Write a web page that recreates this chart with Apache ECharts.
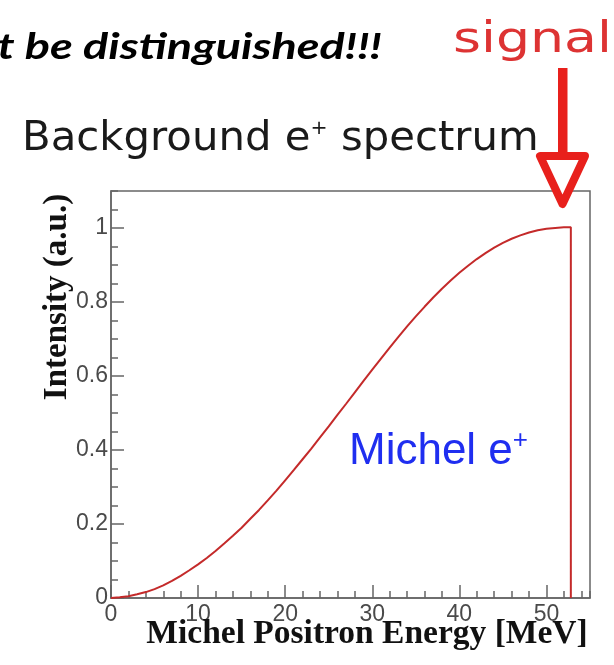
<!DOCTYPE html>
<html>
<head>
<meta charset="utf-8">
<script src="https://cdn.jsdelivr.net/npm/echarts@6/dist/echarts.min.js"></script>
<style>
  html, body { margin: 0; padding: 0; background: #ffffff; }
  #chart { width: 614px; height: 665px; }
</style>
</head>
<body>
<div id="chart"></div>
<script>
// Michel positron energy spectrum (MeV vs. normalised intensity)
const energy = [0, 1, 2, 3, 4, 5, 6, 7, 8, 9, 10, 11, 12, 13, 14, 15, 16, 17, 18, 19, 20,
  21, 22, 23, 24, 25, 26, 27, 28, 29, 30, 31, 32, 33, 34, 35, 36, 37, 38, 39, 40,
  41, 42, 43, 44, 45, 46, 47, 48, 49, 50, 51, 52, 52.8, 52.8];
const intensity = [0, 0.002, 0.005, 0.010, 0.016, 0.024, 0.034, 0.046, 0.060, 0.075, 0.091,
  0.108, 0.127, 0.147, 0.168, 0.190, 0.214, 0.238, 0.264, 0.290, 0.318,
  0.346, 0.375, 0.404, 0.434, 0.464, 0.495, 0.525, 0.556, 0.587, 0.617,
  0.647, 0.677, 0.706, 0.734, 0.761, 0.787, 0.812, 0.836, 0.858, 0.879,
  0.898, 0.916, 0.932, 0.947, 0.960, 0.971, 0.980, 0.988, 0.994, 0.998,
  1.000, 1.002, 1.002, 0];

const xTickLabels = ['0', '10', '20', '30', '40', '50'];
const yTickLabels = ['0', '0.2', '0.4', '0.6', '0.8', '1'];

const headline = 't be distinguished!!!';
const signalText = 'signal';
const plotTitle = 'Background e';
const plotTitleTail = ' spectrum';
const curveLabel = 'Michel e';
const xTitle = 'Michel Positron Energy [MeV]';
const yTitle = 'Intensity (a.u.)';

const AXIS_GREY = '#666666';
const LABEL_GREY = '#4a4a4a';
const CURVE_RED = '#c42a2a';
const ARROW_RED = '#e8201c';

const chart = echarts.init(document.getElementById('chart'), null, { renderer: 'canvas' });

const tickFont = { fontFamily: 'Liberation Sans', fontSize: 23, color: LABEL_GREY };

const option = {
  backgroundColor: '#ffffff',
  animation: false,
  grid: {
    left: 111, right: 24, top: 191, bottom: 67,
    show: true, borderColor: AXIS_GREY, borderWidth: 1.5, backgroundColor: 'transparent'
  },
  xAxis: [
    {
      type: 'value', min: 0, max: 55, interval: 10,
      axisLine: { show: true, lineStyle: { color: AXIS_GREY, width: 1.5 } },
      axisTick: { show: true, inside: true, length: 13, lineStyle: { color: AXIS_GREY, width: 1.5 } },
      axisLabel: Object.assign({ margin: 5, showMaxLabel: false,
        formatter: v => xTickLabels[Math.round(v / 10)] || '' }, tickFont),
      splitLine: { show: false }
    },
    {
      type: 'value', min: 0, max: 55, interval: 2, position: 'bottom',
      axisLine: { show: false },
      axisTick: { show: true, inside: true, length: 7, lineStyle: { color: AXIS_GREY, width: 1.5 } },
      axisLabel: { show: false },
      splitLine: { show: false }
    }
  ],
  yAxis: [
    {
      type: 'value', min: 0, max: 1.1, interval: 0.2,
      axisLine: { show: true, lineStyle: { color: AXIS_GREY, width: 1.5 } },
      axisTick: { show: true, inside: true, length: 13, lineStyle: { color: AXIS_GREY, width: 1.5 } },
      axisLabel: Object.assign({ margin: 3, showMaxLabel: false,
        formatter: v => yTickLabels[Math.round(v / 0.2)] || '' }, tickFont),
      splitLine: { show: false }
    },
    {
      type: 'value', min: 0, max: 1.1, interval: 0.05, position: 'left',
      axisLine: { show: false },
      axisTick: { show: true, inside: true, length: 7, lineStyle: { color: AXIS_GREY, width: 1.5 } },
      axisLabel: { show: false },
      splitLine: { show: false }
    }
  ],
  series: [{
    type: 'line',
    xAxisIndex: 0, yAxisIndex: 0,
    data: energy.map((e, i) => [e, intensity[i]]),
    showSymbol: false,
    lineStyle: { color: CURVE_RED, width: 2 },
    z: 3
  }],
  graphic: [
    {
      type: 'text', x: 382, y: 65, scaleX: 1.3, z: 10,
      style: { text: headline, fill: '#000000', fontFamily: 'Lato', fontWeight: 'bold',
        fontStyle: 'italic', fontSize: 36, textAlign: 'right', textVerticalAlign: 'bottom' }
    },
    {
      type: 'text', x: 612, y: 62, scaleX: 1.28, z: 10,
      style: { text: signalText, fill: '#dd3333',
        fontFamily: 'DejaVu Sans', fontSize: 42,
        textAlign: 'right', textVerticalAlign: 'bottom' }
    },
    {
      type: 'rect', z: 10,
      shape: { x: 558, y: 68, width: 9.5, height: 86 },
      style: { fill: ARROW_RED }
    },
    {
      type: 'polygon', z: 10,
      shape: { points: [[540, 156], [585, 156], [562.5, 204]] },
      style: { fill: '#ffffff', stroke: ARROW_RED, lineWidth: 8, lineJoin: 'round' }
    },
    {
      type: 'text', x: 22, y: 160, scaleX: 1.02, z: 10,
      style: {
        text: plotTitle + '{sup|+}' + plotTitleTail,
        fill: '#1a1a1a', fontFamily: 'DejaVu Sans', fontSize: 41,
        textVerticalAlign: 'bottom',
        rich: { sup: { fontSize: 20, verticalAlign: 'top', padding: [0, 0, 16, 0],
          fontFamily: 'DejaVu Sans', fill: '#1a1a1a' } }
      }
    },
    {
      type: 'text', x: 349, y: 476, z: 10,
      style: {
        text: curveLabel + '{sup|+}',
        fill: '#1f2ef0', fontFamily: 'Liberation Sans', fontSize: 44,
        textVerticalAlign: 'bottom',
        rich: { sup: { fontSize: 26, padding: [0, 0, 22, 0], fill: '#1f2ef0',
          fontFamily: 'Liberation Sans' } }
      }
    },
    {
      type: 'text', x: 367, y: 634, z: 10,
      style: { text: xTitle, fill: '#111111', fontFamily: 'Liberation Serif', fontWeight: 'bold',
        fontSize: 33.5, textAlign: 'center', textVerticalAlign: 'middle' }
    },
    {
      type: 'text', x: 57, y: 297, rotation: Math.PI / 2, z: 10,
      style: { text: yTitle, fill: '#111111', fontFamily: 'Liberation Serif', fontWeight: 'bold',
        fontSize: 33, textAlign: 'center', textVerticalAlign: 'middle' }
    }
  ]
};

chart.setOption(option);
</script>
</body>
</html>
